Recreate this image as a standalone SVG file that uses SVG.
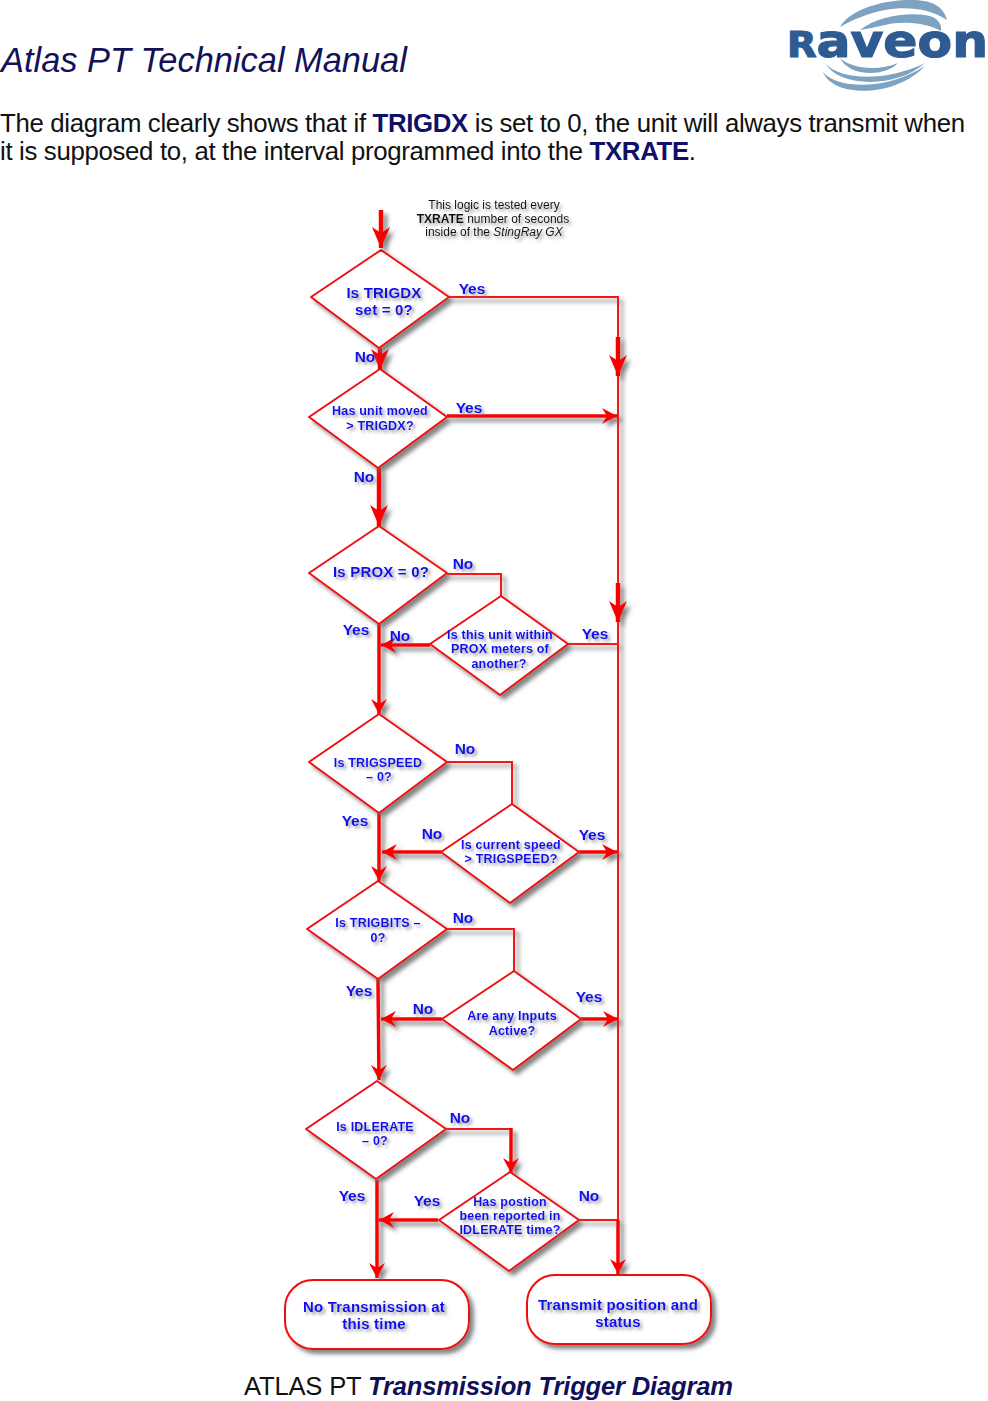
<svg xmlns="http://www.w3.org/2000/svg" width="988" height="1401" viewBox="0 0 988 1401">
<style>
text{font-family:"Liberation Sans",Arial,sans-serif}
.shape{fill:#fff;stroke:#f01010;stroke-width:2;stroke-linejoin:round}
.thin{fill:none;stroke:#f81414;stroke-width:2}
.mid{fill:none;stroke:#f80000;stroke-width:3.5}
.thick{fill:none;stroke:#f80000;stroke-width:4.5}
.a{marker-end:url(#head)}
.ab{marker-end:url(#bighead)}
.sh{filter:url(#shadow)}
.ts{filter:url(#tshadow)}
.n{fill:#1010f0;font-weight:bold;text-anchor:middle;font-size:12.5px;letter-spacing:.2px}
.nb{fill:#1010f0;font-weight:bold;text-anchor:middle;font-size:15px;letter-spacing:.2px}
.l{fill:#1010f0;font-weight:bold;text-anchor:middle;font-size:15.5px}
.note{fill:#111;text-anchor:middle;font-size:12px}
.body{fill:#111;font-size:25.8px}
.b{fill:#10106a;font-weight:bold}
.sw{fill:#7ea2c2}
</style>
<defs>
<filter id="shadow" x="-20%" y="-20%" width="150%" height="150%"><feDropShadow dx="4" dy="4" stdDeviation="2" flood-color="#666" flood-opacity="0.8"/></filter>
<filter id="tshadow" x="-20%" y="-30%" width="140%" height="170%"><feDropShadow dx="2.5" dy="2.5" stdDeviation="1.5" flood-color="#777" flood-opacity="0.75"/></filter>
<marker id="head" markerUnits="userSpaceOnUse" markerWidth="18" markerHeight="18" refX="15" refY="8" orient="auto"><path d="M0 0L15 8L0 16L5 8Z" fill="#f80000"/></marker>
<marker id="bighead" markerUnits="userSpaceOnUse" markerWidth="24" markerHeight="22" refX="21" refY="9" orient="auto"><path d="M0 0L21 9L0 18L6 9Z" fill="#f80000"/></marker>
</defs>

<g id="header">
<text x="1" y="72" font-size="34.4" font-style="italic" fill="#12125a">Atlas PT Technical Manual</text>
<text class="body" x="0" y="132" textLength="965" lengthAdjust="spacing">The diagram clearly shows that if <tspan class="b">TRIGDX</tspan> is set to 0, the unit will always transmit when</text>
<text class="body" x="0" y="160" textLength="696" lengthAdjust="spacing">it is supposed to, at the interval programmed into the <tspan class="b">TXRATE</tspan>.</text>
</g>

<g id="logo">
<path class="sw" d="M840 27C850 9 885 -1 915 0C935 1 944 8 947 20C930 8 905 6 885 10C866 14 852 20 840 27Z"/>
<path class="sw" d="M860 30C875 17 905 12 925 15C938 17 942 24 941 31C925 22 900 21 885 25C875 27 868 29 860 30Z"/>
<path class="sw" d="M840 58C850 68 877 72 898 63C884 78 848 76 840 58Z"/>
<path class="sw" d="M826 64C838 78 882 84 925 63C895 90 838 86 826 64Z"/>
<path class="sw" d="M823 72C838 90 888 90 925 66C895 98 833 98 823 72Z"/>
<text x="787" y="57" font-weight="bold" fill="#2f5b93" stroke="#2f5b93" stroke-width="1.2" font-size="46" textLength="201" lengthAdjust="spacingAndGlyphs" style="font-family:'DejaVu Sans',sans-serif"><tspan font-size="35">R</tspan>aveon</text>
</g>

<g id="connectors" class="sh">
<path class="thick ab" d="M381 210V248"/>
<path class="thin" d="M449 297H618V1240"/>
<path class="thick ab" d="M618 337V376"/>
<path class="thick ab" d="M618 583V622"/>
<path class="thick ab" d="M380 348V370"/>
<path class="mid a" d="M447 416H617"/>
<path class="thick ab" d="M379 468V526"/>
<path class="thin" d="M447 574H501V596"/>
<path class="mid a" d="M379 624V714"/>
<path class="mid a" d="M430 645H381"/>
<path class="thin" d="M568 644H618"/>
<path class="thin" d="M447 762H512V804"/>
<path class="mid a" d="M379 813V881"/>
<path class="mid a" d="M441 852H382"/>
<path class="mid a" d="M579 852H617"/>
<path class="thin" d="M447 929H514V971"/>
<path class="mid a" d="M378 979L379 1080"/>
<path class="mid a" d="M442 1019H381"/>
<path class="mid a" d="M581 1019H618"/>
<path class="thin" d="M446 1129H511"/>
<path class="mid a" d="M511 1128V1173"/>
<path class="mid a" d="M377 1180V1278"/>
<path class="mid a" d="M438 1220H379"/>
<path class="thin" d="M579 1220H618"/>
<path class="mid a" d="M618 1220V1274"/>
</g>

<g id="d1"><path class="shape sh" d="M381 250L449 297L379 348L311 297Z"/><text class="nb ts" x="384" y="298">Is TRIGDX</text><text class="nb ts" x="384" y="315">set = 0?</text></g>
<g id="d2"><path class="shape sh" d="M380 369L447 417L378 468L309 417Z"/><text class="n ts" x="380" y="415">Has unit moved</text><text class="n ts" x="380" y="430">&gt; TRIGDX?</text></g>
<g id="d3"><path class="shape sh" d="M379 526L447 573L379 624L309 573Z"/><text class="nb ts" x="381" y="577">Is PROX = 0?</text></g>
<g id="d3b"><path class="shape sh" d="M501 596L568 644L500 695L430 644Z"/><text class="n ts" x="500" y="639">Is this unit within</text><text class="n ts" x="500" y="653">PROX meters of</text><text class="n ts" x="499" y="668">another?</text></g>
<g id="d4"><path class="shape sh" d="M379 714L447 762L379 813L309 762Z"/><text class="n ts" x="378" y="767">Is TRIGSPEED</text><text class="n ts" x="379" y="781">– 0?</text></g>
<g id="d4b"><path class="shape sh" d="M512 804L579 852L510 903L441 852Z"/><text class="n ts" x="511" y="849">Is current speed</text><text class="n ts" x="511" y="863">&gt; TRIGSPEED?</text></g>
<g id="d5"><path class="shape sh" d="M378 881L447 929L378 979L307 929Z"/><text class="n ts" x="378" y="927">Is TRIGBITS –</text><text class="n ts" x="378" y="942">0?</text></g>
<g id="d5b"><path class="shape sh" d="M514 971L581 1019L513 1070L442 1019Z"/><text class="n ts" x="512" y="1020">Are any Inputs</text><text class="n ts" x="512" y="1035">Active?</text></g>
<g id="d6"><path class="shape sh" d="M377 1081L446 1129L376 1179L306 1129Z"/><text class="n ts" x="375" y="1131">Is IDLERATE</text><text class="n ts" x="375" y="1145">– 0?</text></g>
<g id="d6b"><path class="shape sh" d="M510 1172L579 1220L509 1271L439 1220Z"/><text class="n ts" x="510" y="1206">Has postion</text><text class="n ts" x="510" y="1220">been reported in</text><text class="n ts" x="510" y="1234">IDLERATE time?</text></g>
<g id="r1"><rect class="shape sh" x="285" y="1280" width="184" height="69" rx="28"/><text class="nb ts" x="374" y="1312">No Transmission at</text><text class="nb ts" x="374" y="1329">this time</text></g>
<g id="r2"><rect class="shape sh" x="527" y="1275" width="184" height="69" rx="28"/><text class="nb ts" x="618" y="1310">Transmit position and</text><text class="nb ts" x="618" y="1327">status</text></g>

<g id="labels" class="ts">
<text class="l" x="472" y="294">Yes</text><text class="l" x="365" y="362">No</text>
<text class="l" x="469" y="413">Yes</text><text class="l" x="364" y="482">No</text>
<text class="l" x="463" y="569">No</text><text class="l" x="356" y="635">Yes</text><text class="l" x="400" y="641">No</text><text class="l" x="595" y="639">Yes</text>
<text class="l" x="465" y="754">No</text><text class="l" x="355" y="826">Yes</text><text class="l" x="432" y="839">No</text><text class="l" x="592" y="840">Yes</text>
<text class="l" x="463" y="923">No</text><text class="l" x="359" y="996">Yes</text><text class="l" x="423" y="1014">No</text><text class="l" x="589" y="1002">Yes</text>
<text class="l" x="460" y="1123">No</text><text class="l" x="352" y="1201">Yes</text><text class="l" x="427" y="1206">Yes</text><text class="l" x="589" y="1201">No</text>
<text class="note" x="494" y="209">This logic is tested every</text>
<text class="note" x="493" y="223"><tspan font-weight="bold">TXRATE</tspan> number of seconds</text>
<text class="note" x="494" y="236">inside of the <tspan font-style="italic">StingRay GX</tspan></text>
</g>

<text id="caption" x="244" y="1395" font-size="25.6" fill="#111" textLength="489" lengthAdjust="spacing">ATLAS PT <tspan font-weight="bold" font-style="italic" fill="#10105a">Transmission Trigger Diagram</tspan></text>
</svg>
